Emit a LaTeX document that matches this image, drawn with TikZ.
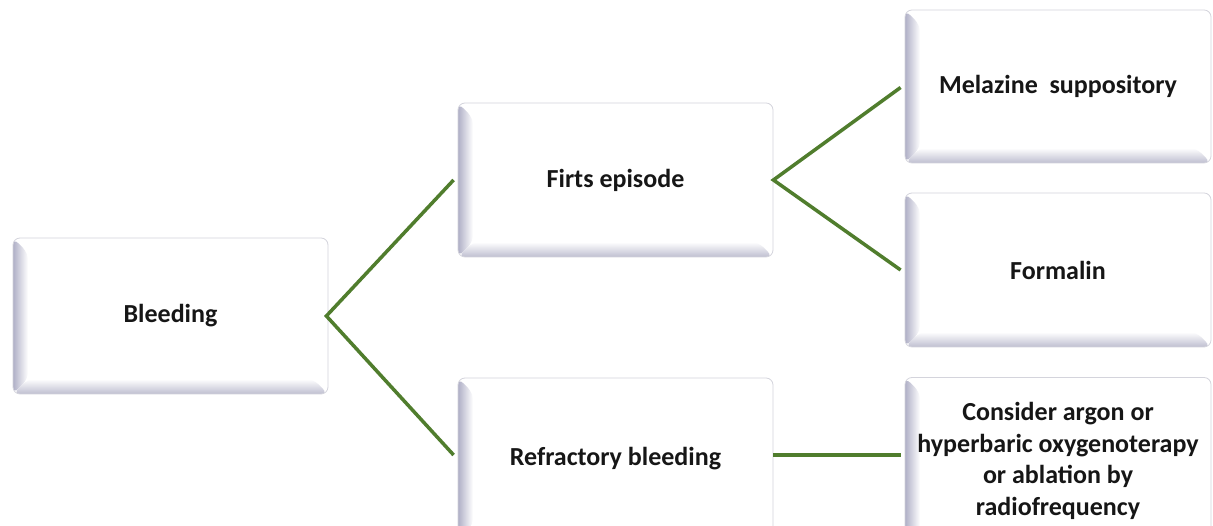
\documentclass[tikz,border=0pt]{standalone}
\usepackage{fontspec}
\setmainfont{Carlito}
\usetikzlibrary{calc}
\definecolor{bev}{RGB}{175,175,198}
\definecolor{bevb}{RGB}{190,190,208}
\definecolor{edge}{RGB}{212,212,220}
\definecolor{link}{RGB}{80,125,45}
\definecolor{txt}{RGB}{22,22,22}
\tikzset{
  bbox/.style={draw=edge, line width=0.8pt, rounded corners=7pt, fill=white,
    inner sep=0pt, align=center, text=txt,
    font=\fontsize{26}{31.5}\selectfont\bfseries,
    path picture={
      \coordinate (pSW) at (path picture bounding box.south west);
      \coordinate (pNE) at (path picture bounding box.north east);
      \shade[left color=bev, right color=white]
        (pSW) -- ($(pSW)+(15pt,15pt)$) -- ($(pSW|-pNE)+(15pt,-15pt)$) -- (pSW|-pNE) -- cycle;
      \shade[bottom color=bevb, top color=white]
        (pSW) -- (pNE|-pSW) -- ($(pNE|-pSW)+(-15pt,15pt)$) -- ($(pSW)+(15pt,15pt)$) -- cycle;
    }},
  linkline/.style={draw=link, line width=3.5pt}
}
\begin{document}
\begin{tikzpicture}[x=1pt,y=1pt]
\clip (0,0) rectangle (1213,526);
\fill[white] (0,0) rectangle (1213,526);
\node[bbox, minimum width=315pt, minimum height=156pt] (b) at (170.5,210) {Bleeding};
\node[bbox, minimum width=315pt, minimum height=154pt] (f) at (615.5,346) {Firts episode};
\node[bbox, minimum width=315pt, minimum height=162pt] (r) at (615.5,67) {Refractory bleeding};
\node[bbox, minimum width=306pt, minimum height=153pt] (m) at (1058,439.5) {Melazine\ \ suppository};
\node[bbox, minimum width=306pt, minimum height=167pt] (c) at (1058,65)
  {Consider argon or\\hyperbaric oxygenoterapy\\or ablation\ by\\radiofrequency};
\node[bbox, minimum width=306pt, minimum height=154pt] (fo) at (1058,256) {Formalin};
\coordinate (rl) at ($(r.east)+(0,4)$);
\coordinate (cl) at ($(rl -| c.west)+(-4pt,0)$);
\draw[linkline] ($(f.west)+(-4pt,0)$) -- ($(b.east)+(-2pt,0)$) -- ($(r.west)+(-4pt,4pt)$);
\draw[linkline] ($(m.west)+(-4pt,-1pt)$) -- (f.east) -- ($(fo.west)+(-4pt,0)$);
\draw[linkline] (rl) -- (cl);
\end{tikzpicture}
\end{document}
